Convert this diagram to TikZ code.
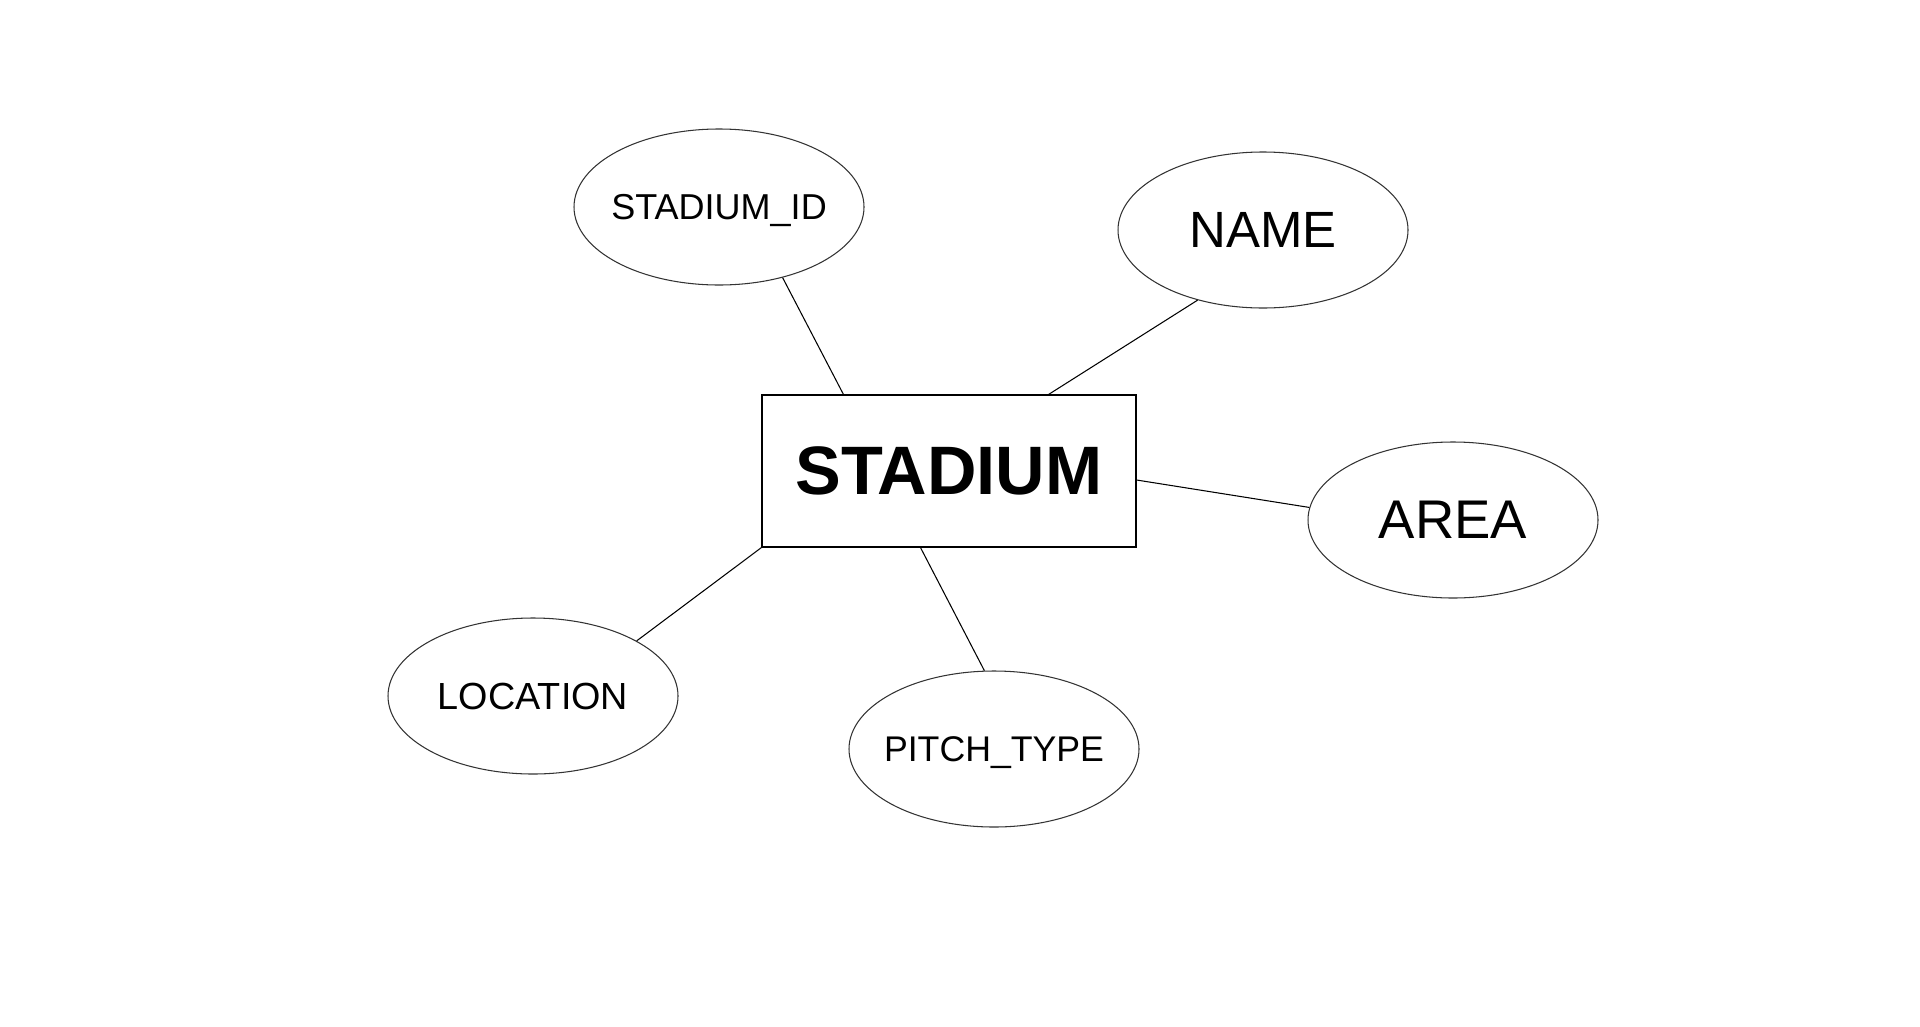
\documentclass[tikz,border=0pt]{standalone}
\usepackage{fontspec}
\setmainfont{Liberation Sans}
\usetikzlibrary{shapes.geometric}
\tikzset{
        entity/.style={draw, rectangle, line width=0.6pt, minimum width=7.48cm, minimum height=3.04cm, font=\fontsize{39}{45}\selectfont\bfseries}, % box of the entity
        attribute/.style={draw=black!80, ellipse, line width=0.6pt, minimum width=5.8cm, minimum height=3.12cm, inner sep=0pt, text depth=0pt,
            execute at begin node={\hbox to 0pt\bgroup\hss}, execute at end node={\hss\egroup}}, % text does not widen the ellipse
        link/.style={line width=0.6pt}, % lines from entity to attributes
    }
\begin{document}
\begin{tikzpicture}
    \useasboundingbox (0,0) rectangle (38.4,-20.52);
    \node[entity] (stadium) at (18.98,-9.42) {STADIUM};
    \node[attribute, font=\fontsize{20.5}{24}\selectfont] (id) at (14.38,-4.14) {STADIUM\_ID};
    \node[attribute, font=\fontsize{29}{34}\selectfont] (name) at (25.26,-4.6) {NAME};
    \node[attribute, font=\fontsize{31}{36}\selectfont] (area) at (29.06,-10.4) {AREA};
    \node[attribute, font=\fontsize{21.5}{25}\selectfont] (location) at (10.66,-13.92) {LOCATION};
    \node[attribute, font=\fontsize{20.3}{24}\selectfont] (pitch) at (19.88,-14.98) {PITCH\_TYPE};
    \draw[link]
      ([xshift=1.64cm]stadium.north west) edge (id.-48)
      ([xshift=-1.76cm]stadium.north east) edge (name.-133)
      ([yshift=-0.18cm]stadium.east) edge (area.175)
      (stadium.south west) edge (location.28)
      ([xshift=3.18cm]stadium.south west) edge (pitch.97);
  \end{tikzpicture}
\end{document}
